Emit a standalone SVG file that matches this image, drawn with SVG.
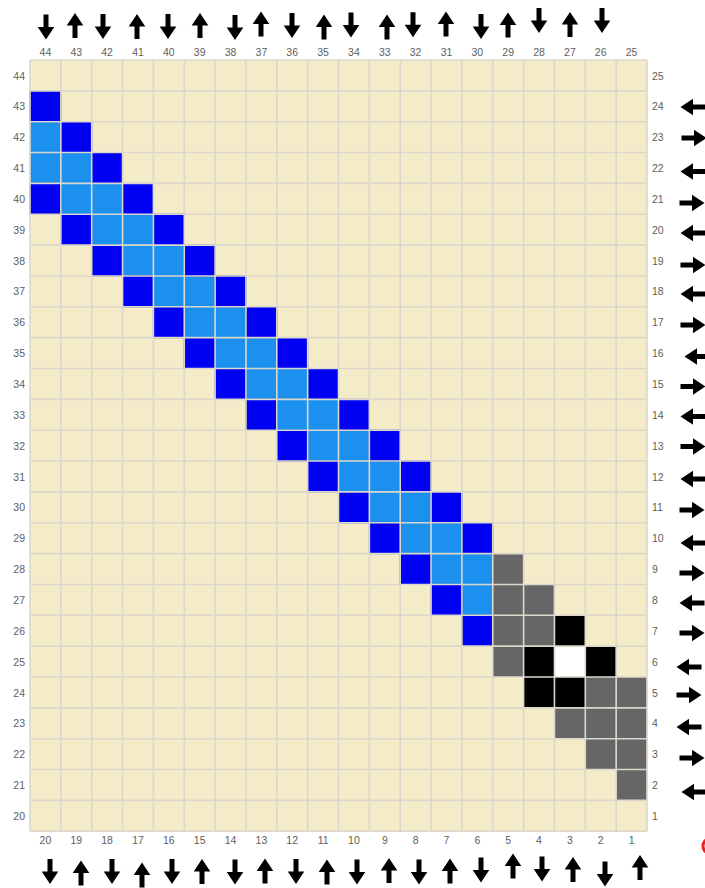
<svg xmlns="http://www.w3.org/2000/svg" xmlns:xlink="http://www.w3.org/1999/xlink" width="705" height="888" viewBox="0 0 705 888">
<style>
.bg{fill:#f4ebc8}
.db{fill:#0000f2;stroke:#0000b8;stroke-width:1}
.lb{fill:#1b90ee}
.gr{fill:#666666}
.bk{fill:#000000}
.wh{fill:#ffffff}
.gl{stroke:#dcd7cc;stroke-width:1.6;fill:none}
.lab{font-family:"Liberation Sans",Arial,sans-serif;font-size:10.5px;fill:#5e5e5e}
.mid{text-anchor:middle}
.end{text-anchor:end}
.arr{fill:#000000}
</style>
<defs>
<path id="ar" d="M-2.5,-12.5 H2.5 V0 H8.3 L0,12.5 L-8.3,0 H-2.5 Z"/>
<rect id="c" width="30.85" height="30.85"/>
</defs>
<rect width="705" height="888" fill="#ffffff"/>
<g id="grid">
<rect class="bg" x="30" y="60" width="617" height="771.25"/>
<g id="light-blue" class="lb">
<use href="#c" x="30" y="121.7"/>
<use href="#c" x="30" y="152.55"/><use href="#c" x="60.85" y="152.55"/>
<use href="#c" x="60.85" y="183.4"/><use href="#c" x="91.7" y="183.4"/>
<use href="#c" x="91.7" y="214.25"/><use href="#c" x="122.55" y="214.25"/>
<use href="#c" x="122.55" y="245.1"/><use href="#c" x="153.4" y="245.1"/>
<use href="#c" x="153.4" y="275.95"/><use href="#c" x="184.25" y="275.95"/>
<use href="#c" x="184.25" y="306.8"/><use href="#c" x="215.1" y="306.8"/>
<use href="#c" x="215.1" y="337.65"/><use href="#c" x="245.95" y="337.65"/>
<use href="#c" x="245.95" y="368.5"/><use href="#c" x="276.8" y="368.5"/>
<use href="#c" x="276.8" y="399.35"/><use href="#c" x="307.65" y="399.35"/>
<use href="#c" x="307.65" y="430.2"/><use href="#c" x="338.5" y="430.2"/>
<use href="#c" x="338.5" y="461.05"/><use href="#c" x="369.35" y="461.05"/>
<use href="#c" x="369.35" y="491.9"/><use href="#c" x="400.2" y="491.9"/>
<use href="#c" x="400.2" y="522.75"/><use href="#c" x="431.05" y="522.75"/>
<use href="#c" x="431.05" y="553.6"/><use href="#c" x="461.9" y="553.6"/>
<use href="#c" x="461.9" y="584.45"/>
</g>
<g id="dark-blue" class="db">
<use href="#c" x="30" y="90.85"/>
<use href="#c" x="60.85" y="121.7"/>
<use href="#c" x="91.7" y="152.55"/>
<use href="#c" x="30" y="183.4"/><use href="#c" x="122.55" y="183.4"/>
<use href="#c" x="60.85" y="214.25"/><use href="#c" x="153.4" y="214.25"/>
<use href="#c" x="91.7" y="245.1"/><use href="#c" x="184.25" y="245.1"/>
<use href="#c" x="122.55" y="275.95"/><use href="#c" x="215.1" y="275.95"/>
<use href="#c" x="153.4" y="306.8"/><use href="#c" x="245.95" y="306.8"/>
<use href="#c" x="184.25" y="337.65"/><use href="#c" x="276.8" y="337.65"/>
<use href="#c" x="215.1" y="368.5"/><use href="#c" x="307.65" y="368.5"/>
<use href="#c" x="245.95" y="399.35"/><use href="#c" x="338.5" y="399.35"/>
<use href="#c" x="276.8" y="430.2"/><use href="#c" x="369.35" y="430.2"/>
<use href="#c" x="307.65" y="461.05"/><use href="#c" x="400.2" y="461.05"/>
<use href="#c" x="338.5" y="491.9"/><use href="#c" x="431.05" y="491.9"/>
<use href="#c" x="369.35" y="522.75"/><use href="#c" x="461.9" y="522.75"/>
<use href="#c" x="400.2" y="553.6"/>
<use href="#c" x="431.05" y="584.45"/>
<use href="#c" x="461.9" y="615.3"/>
</g>
<g id="gray" class="gr">
<use href="#c" x="492.75" y="553.6"/>
<use href="#c" x="492.75" y="584.45"/><use href="#c" x="523.6" y="584.45"/>
<use href="#c" x="492.75" y="615.3"/><use href="#c" x="523.6" y="615.3"/>
<use href="#c" x="492.75" y="646.15"/>
<use href="#c" x="585.3" y="677"/><use href="#c" x="616.15" y="677"/>
<use href="#c" x="554.45" y="707.85"/><use href="#c" x="585.3" y="707.85"/><use href="#c" x="616.15" y="707.85"/>
<use href="#c" x="585.3" y="738.7"/><use href="#c" x="616.15" y="738.7"/>
<use href="#c" x="616.15" y="769.55"/>
</g>
<g id="black" class="bk">
<use href="#c" x="554.45" y="615.3"/>
<use href="#c" x="523.6" y="646.15"/><use href="#c" x="585.3" y="646.15"/>
<use href="#c" x="523.6" y="677"/><use href="#c" x="554.45" y="677"/>
</g>
<g id="white" class="wh">
<use href="#c" x="554.45" y="646.15"/>
</g>
<path class="gl" d="M30,60V831.25M60.85,60V831.25M91.7,60V831.25M122.55,60V831.25M153.4,60V831.25M184.25,60V831.25M215.1,60V831.25M245.95,60V831.25M276.8,60V831.25M307.65,60V831.25M338.5,60V831.25M369.35,60V831.25M400.2,60V831.25M431.05,60V831.25M461.9,60V831.25M492.75,60V831.25M523.6,60V831.25M554.45,60V831.25M585.3,60V831.25M616.15,60V831.25M647,60V831.25
M30,60H647M30,90.85H647M30,121.7H647M30,152.55H647M30,183.4H647M30,214.25H647M30,245.1H647M30,275.95H647M30,306.8H647M30,337.65H647M30,368.5H647M30,399.35H647M30,430.2H647M30,461.05H647M30,491.9H647M30,522.75H647M30,553.6H647M30,584.45H647M30,615.3H647M30,646.15H647M30,677H647M30,707.85H647M30,738.7H647M30,769.55H647M30,800.4H647M30,831.25H647"/>
</g>
<g id="top-labels" class="lab mid">
<text x="45.4" y="56">44</text><text x="76.3" y="56">43</text><text x="107.1" y="56">42</text><text x="138" y="56">41</text><text x="168.8" y="56">40</text><text x="199.7" y="56">39</text><text x="230.5" y="56">38</text><text x="261.4" y="56">37</text><text x="292.2" y="56">36</text><text x="323.1" y="56">35</text><text x="353.9" y="56">34</text><text x="384.8" y="56">33</text><text x="415.6" y="56">32</text><text x="446.5" y="56">31</text><text x="477.3" y="56">30</text><text x="508.2" y="56">29</text><text x="539" y="56">28</text><text x="569.9" y="56">27</text><text x="600.7" y="56">26</text><text x="631.6" y="56">25</text>
</g>
<g id="bottom-labels" class="lab mid">
<text x="45.4" y="844">20</text><text x="76.3" y="844">19</text><text x="107.1" y="844">18</text><text x="138" y="844">17</text><text x="168.8" y="844">16</text><text x="199.7" y="844">15</text><text x="230.5" y="844">14</text><text x="261.4" y="844">13</text><text x="292.2" y="844">12</text><text x="323.1" y="844">11</text><text x="353.9" y="844">10</text><text x="384.8" y="844">9</text><text x="415.6" y="844">8</text><text x="446.5" y="844">7</text><text x="477.3" y="844">6</text><text x="508.2" y="844">5</text><text x="539" y="844">4</text><text x="569.9" y="844">3</text><text x="600.7" y="844">2</text><text x="631.6" y="844">1</text>
</g>
<g id="left-labels" class="lab end">
<text x="25" y="79.5">44</text><text x="25" y="110.3">43</text><text x="25" y="141.2">42</text><text x="25" y="172">41</text><text x="25" y="202.9">40</text><text x="25" y="233.7">39</text><text x="25" y="264.6">38</text><text x="25" y="295.4">37</text><text x="25" y="326.3">36</text><text x="25" y="357.1">35</text><text x="25" y="388">34</text><text x="25" y="418.8">33</text><text x="25" y="449.7">32</text><text x="25" y="480.5">31</text><text x="25" y="511.4">30</text><text x="25" y="542.2">29</text><text x="25" y="573.1">28</text><text x="25" y="603.9">27</text><text x="25" y="634.8">26</text><text x="25" y="665.6">25</text><text x="25" y="696.5">24</text><text x="25" y="727.3">23</text><text x="25" y="758.2">22</text><text x="25" y="789">21</text><text x="25" y="819.9">20</text>
</g>
<g id="right-labels" class="lab">
<text x="652" y="79.5">25</text><text x="652" y="110.3">24</text><text x="652" y="141.2">23</text><text x="652" y="172">22</text><text x="652" y="202.9">21</text><text x="652" y="233.7">20</text><text x="652" y="264.6">19</text><text x="652" y="295.4">18</text><text x="652" y="326.3">17</text><text x="652" y="357.1">16</text><text x="652" y="388">15</text><text x="652" y="418.8">14</text><text x="652" y="449.7">13</text><text x="652" y="480.5">12</text><text x="652" y="511.4">11</text><text x="652" y="542.2">10</text><text x="652" y="573.1">9</text><text x="652" y="603.9">8</text><text x="652" y="634.8">7</text><text x="652" y="665.6">6</text><text x="652" y="696.5">5</text><text x="652" y="727.3">4</text><text x="652" y="758.2">3</text><text x="652" y="789">2</text><text x="652" y="819.9">1</text>
</g>
<g id="top-arrows" class="arr">
<use href="#ar" transform="translate(46,27)"/>
<use href="#ar" transform="translate(75,25.5) rotate(180)"/>
<use href="#ar" transform="translate(103,26.5)"/>
<use href="#ar" transform="translate(137,26.5) rotate(180)"/>
<use href="#ar" transform="translate(168,26.5)"/>
<use href="#ar" transform="translate(200,25.5) rotate(180)"/>
<use href="#ar" transform="translate(235,27.5)"/>
<use href="#ar" transform="translate(261,24) rotate(180)"/>
<use href="#ar" transform="translate(292,25.5)"/>
<use href="#ar" transform="translate(324,27) rotate(180)"/>
<use href="#ar" transform="translate(351,25)"/>
<use href="#ar" transform="translate(387,27) rotate(180)"/>
<use href="#ar" transform="translate(413,24.7)"/>
<use href="#ar" transform="translate(446,24) rotate(180)"/>
<use href="#ar" transform="translate(481,26.5)"/>
<use href="#ar" transform="translate(508,25) rotate(180)"/>
<use href="#ar" transform="translate(539,20.5)"/>
<use href="#ar" transform="translate(570,24.5) rotate(180)"/>
<use href="#ar" transform="translate(602,20.5)"/>
</g>
<g id="bottom-arrows" class="arr">
<use href="#ar" transform="translate(50,871.5)"/>
<use href="#ar" transform="translate(81,873) rotate(180)"/>
<use href="#ar" transform="translate(112,871.5)"/>
<use href="#ar" transform="translate(142,875) rotate(180)"/>
<use href="#ar" transform="translate(172,871.5)"/>
<use href="#ar" transform="translate(202,871.5) rotate(180)"/>
<use href="#ar" transform="translate(235,872)"/>
<use href="#ar" transform="translate(265,871) rotate(180)"/>
<use href="#ar" transform="translate(296,871.5)"/>
<use href="#ar" transform="translate(327,872) rotate(180)"/>
<use href="#ar" transform="translate(357,872)"/>
<use href="#ar" transform="translate(389,870.5) rotate(180)"/>
<use href="#ar" transform="translate(419,872)"/>
<use href="#ar" transform="translate(450,871) rotate(180)"/>
<use href="#ar" transform="translate(481,870)"/>
<use href="#ar" transform="translate(513,866) rotate(180)"/>
<use href="#ar" transform="translate(542,869)"/>
<use href="#ar" transform="translate(573,869.5) rotate(180)"/>
<use href="#ar" transform="translate(605,874)"/>
<use href="#ar" transform="translate(640,867.5) rotate(180)"/>
</g>
<g id="right-arrows" class="arr">
<use href="#ar" transform="translate(693,107) rotate(90)"/>
<use href="#ar" transform="translate(694,138) rotate(-90)"/>
<use href="#ar" transform="translate(693,171.5) rotate(90)"/>
<use href="#ar" transform="translate(692,203) rotate(-90)"/>
<use href="#ar" transform="translate(693,233) rotate(90)"/>
<use href="#ar" transform="translate(693,265) rotate(-90)"/>
<use href="#ar" transform="translate(693,294) rotate(90)"/>
<use href="#ar" transform="translate(693,325) rotate(-90)"/>
<use href="#ar" transform="translate(697,356.5) rotate(90)"/>
<use href="#ar" transform="translate(693,386.5) rotate(-90)"/>
<use href="#ar" transform="translate(693,416.5) rotate(90)"/>
<use href="#ar" transform="translate(693,446.5) rotate(-90)"/>
<use href="#ar" transform="translate(693,479) rotate(90)"/>
<use href="#ar" transform="translate(692,510) rotate(-90)"/>
<use href="#ar" transform="translate(693,543) rotate(90)"/>
<use href="#ar" transform="translate(692,573) rotate(-90)"/>
<use href="#ar" transform="translate(692,603) rotate(90)"/>
<use href="#ar" transform="translate(692,633) rotate(-90)"/>
<use href="#ar" transform="translate(689,667) rotate(90)"/>
<use href="#ar" transform="translate(689,695) rotate(-90)"/>
<use href="#ar" transform="translate(689,727) rotate(90)"/>
<use href="#ar" transform="translate(692,758) rotate(-90)"/>
<use href="#ar" transform="translate(694,792) rotate(90)"/>
</g>
<ellipse id="red-mark" cx="717" cy="846" rx="14" ry="10" fill="none" stroke="#e8231f" stroke-width="3"/>
</svg>
